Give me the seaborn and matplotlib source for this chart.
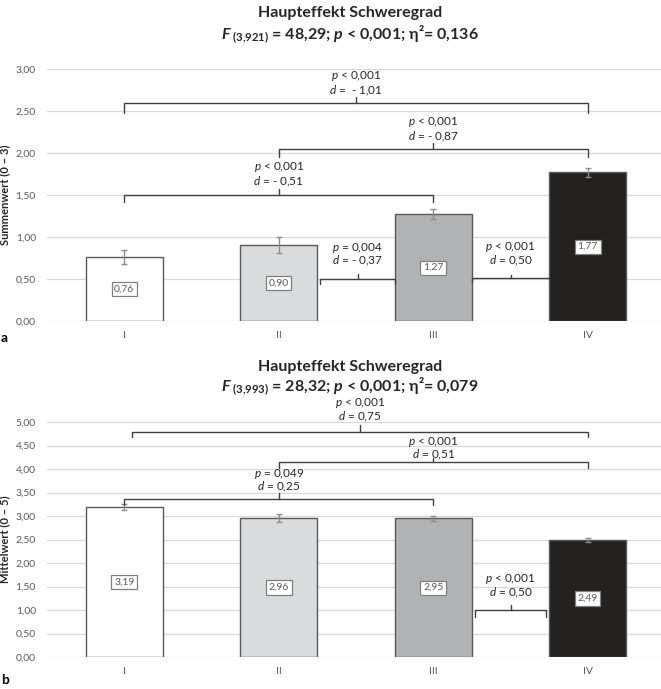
import matplotlib
matplotlib.use("Agg")
import matplotlib.pyplot as plt
import seaborn as sns
import pandas as pd
from matplotlib.ticker import FuncFormatter

# ---------------- data ----------------
categories = ["I", "II", "III", "IV"]
colors = ["#ffffff", "#dadbdd", "#b1b2b4", "#231f20"]

a_values = [0.76, 0.90, 1.27, 1.77]
a_errors = [0.08, 0.095, 0.06, 0.05]
a_labels = ["0,76", "0,90", "1,27", "1,77"]

b_values = [3.19, 2.96, 2.95, 2.49]
b_errors = [0.07, 0.08, 0.06, 0.05]
b_labels = ["3,19", "2,96", "2,95", "2,49"]

a_title1 = "Haupteffekt Schweregrad"
a_title2 = r"$\mathbf{F}_{\mathsf{\ (3{,}921)}}$ = 48,29; $\mathbf{p}$ < 0,001; η²= 0,136"
b_title1 = "Haupteffekt Schweregrad"
b_title2 = r"$\mathbf{F}_{\mathsf{\ (3{,}993)}}$ = 28,32; $\mathbf{p}$ < 0,001; η²= 0,079"

a_ylabel = "Summenwert (0 – 3)"
b_ylabel = "Mittelwert (0 – 5)"

# comparison annotations
a_p_texts = [r"$\mathit{p}$ < 0,001", r"$\mathit{p}$ < 0,001", r"$\mathit{p}$ < 0,001",
             r"$\mathit{p}$ = 0,004", r"$\mathit{p}$ < 0,001"]
a_d_texts = [r"$\mathit{d}$ =  - 1,01", r"$\mathit{d}$ = - 0,87", r"$\mathit{d}$ = - 0,51",
             r"$\mathit{d}$ = - 0,37", r"$\mathit{d}$ = 0,50"]
b_p_texts = [r"$\mathit{p}$ < 0,001", r"$\mathit{p}$ < 0,001", r"$\mathit{p}$ = 0,049",
             r"$\mathit{p}$ < 0,001"]
b_d_texts = [r"$\mathit{d}$ = 0,75", r"$\mathit{d}$ = 0,51", r"$\mathit{d}$ = 0,25",
             r"$\mathit{d}$ = 0,50"]

# bracket geometry: x1, x2, y, left drop, right drop, tick top, p text y, d text y
a_brackets = [
    (0.00, 3.00, 2.595, 2.48, 2.48, 2.67, 2.92, 2.74),
    (1.00, 3.00, 2.05, 1.95, 1.95, 2.12, 2.37, 2.19),
    (0.00, 2.00, 1.50, 1.42, 1.42, 1.57, 1.83, 1.66),
    (1.27, 1.75, 0.50, 0.44, 0.44, 0.56, 0.87, 0.71),
    (2.25, 2.75, 0.51, 0.47, 0.51, 0.55, 0.88, 0.71),
]
b_brackets = [
    (0.05, 3.00, 4.79, 4.68, 4.68, 4.94, 5.40, 5.10),
    (1.00, 3.00, 4.14, 4.02, 4.02, 4.24, 4.58, 4.30),
    (0.00, 2.00, 3.36, 3.24, 3.24, 3.48, 3.89, 3.62),
    (2.27, 2.73, 1.00, 0.86, 0.86, 1.11, 1.65, 1.36),
]

# ---------------- style ----------------
sns.set_theme(style="white")
FONT = ["Lato", "DejaVu Sans"]
plt.rcParams["font.family"] = FONT
plt.rcParams["mathtext.fontset"] = "custom"
plt.rcParams["mathtext.rm"] = "Lato"
plt.rcParams["mathtext.it"] = "Lato:italic"
plt.rcParams["mathtext.bf"] = "Lato:bold:italic"
plt.rcParams["mathtext.sf"] = "Lato:bold"

W, H = 661, 689
fig = plt.figure(figsize=(W / 100, H / 100), dpi=100)

def fx(px):
    return px / W

def fy(py):
    return 1 - py / H

GRID = "#d9d9d9"
TICKC = "#595959"
EDGE = "#595959"
BRC = "#404040"
TXT = "#262626"
ANN = 8.5


def panel(rect, values, errors, labels, ymax, ylabel, brackets, p_texts, d_texts):
    ax = fig.add_axes(rect)
    df = pd.DataFrame({"cat": categories, "val": values})
    sns.barplot(data=df, x="cat", y="val", hue="cat", palette=colors,
                order=categories, hue_order=categories, width=0.5,
                edgecolor=EDGE, linewidth=1.0, errorbar=None, legend=False,
                ax=ax, zorder=2)
    pos = list(range(len(categories)))
    ax.errorbar(pos, values, yerr=errors, fmt="none", ecolor="#8c8c8c",
                elinewidth=1.0, capsize=2.5, capthick=1.0, zorder=3)
    for i, (v, lab) in enumerate(zip(values, labels)):
        ax.text(i, v / 2, lab, ha="center", va="center", fontsize=7.5,
                color=TICKC, zorder=4,
                bbox=dict(boxstyle="square,pad=0.25", facecolor="white",
                          edgecolor="#7f7f7f", linewidth=0.9))
    ax.set_xlim(-0.5, len(categories) - 0.5)
    ax.set_ylim(0, ymax)
    ax.set_yticks([k * 0.5 for k in range(int(ymax * 2) + 1)])
    ax.yaxis.set_major_formatter(FuncFormatter(lambda v, _: f"{v:.2f}".replace(".", ",")))
    ax.yaxis.grid(True, color=GRID, linewidth=0.9)
    ax.set_axisbelow(True)
    for s in ax.spines.values():
        s.set_visible(False)
    ax.tick_params(axis="both", length=0, labelsize=7.5, colors=TICKC)
    ax.tick_params(axis="y", pad=8)
    ax.tick_params(axis="x", pad=7)
    ax.set_xlabel("")
    ax.set_ylabel(ylabel, fontsize=8, fontweight="bold", color=TXT)
    ax.yaxis.set_label_coords((10 - 47) / 618, 0.5)

    for (x1, x2, y, dl, dr, tk, yp, yd), pt, dt in zip(brackets, p_texts, d_texts):
        xc = (x1 + x2) / 2
        ax.plot([x1, x1, x2, x2], [dl, y, y, dr], color=BRC, lw=1.0,
                clip_on=False, zorder=5, solid_joinstyle="round")
        ax.plot([xc, xc], [y, tk], color=BRC, lw=1.0, clip_on=False, zorder=5)
        ax.text(xc, yp, pt, ha="center", va="center", fontsize=ANN, color=TXT)
        ax.text(xc, yd, dt, ha="center", va="center", fontsize=ANN, color=TXT)
    return ax


ax_left, ax_right = 47, 665
# panel a: 0 -> y=321, 3 -> y=69
panel([fx(ax_left), fy(321), fx(ax_right - ax_left), (321 - 69) / H],
      a_values, a_errors, a_labels, 3.0, a_ylabel, a_brackets, a_p_texts, a_d_texts)
# panel b: 0 -> y=657, 5 -> y=422
panel([fx(ax_left), fy(657), fx(ax_right - ax_left), (657 - 422) / H],
      b_values, b_errors, b_labels, 5.0, b_ylabel, b_brackets, b_p_texts, b_d_texts)

tx = fx(350)
TS = 11.5
fig.text(tx, fy(13), a_title1, ha="center", va="center", fontsize=TS, fontweight="bold", color=TXT)
fig.text(tx, fy(34), a_title2, ha="center", va="center", fontsize=TS, fontweight="bold", color=TXT)
fig.text(tx, fy(367), b_title1, ha="center", va="center", fontsize=TS, fontweight="bold", color=TXT)
fig.text(tx, fy(386), b_title2, ha="center", va="center", fontsize=TS, fontweight="bold", color=TXT)

fig.text(fx(1), fy(338), "a", ha="left", va="center", fontsize=10, fontweight="bold", color="black")
fig.text(fx(1), fy(680), "b", ha="left", va="center", fontsize=10, fontweight="bold", color="black")

fig.savefig("out.png", dpi=100)
